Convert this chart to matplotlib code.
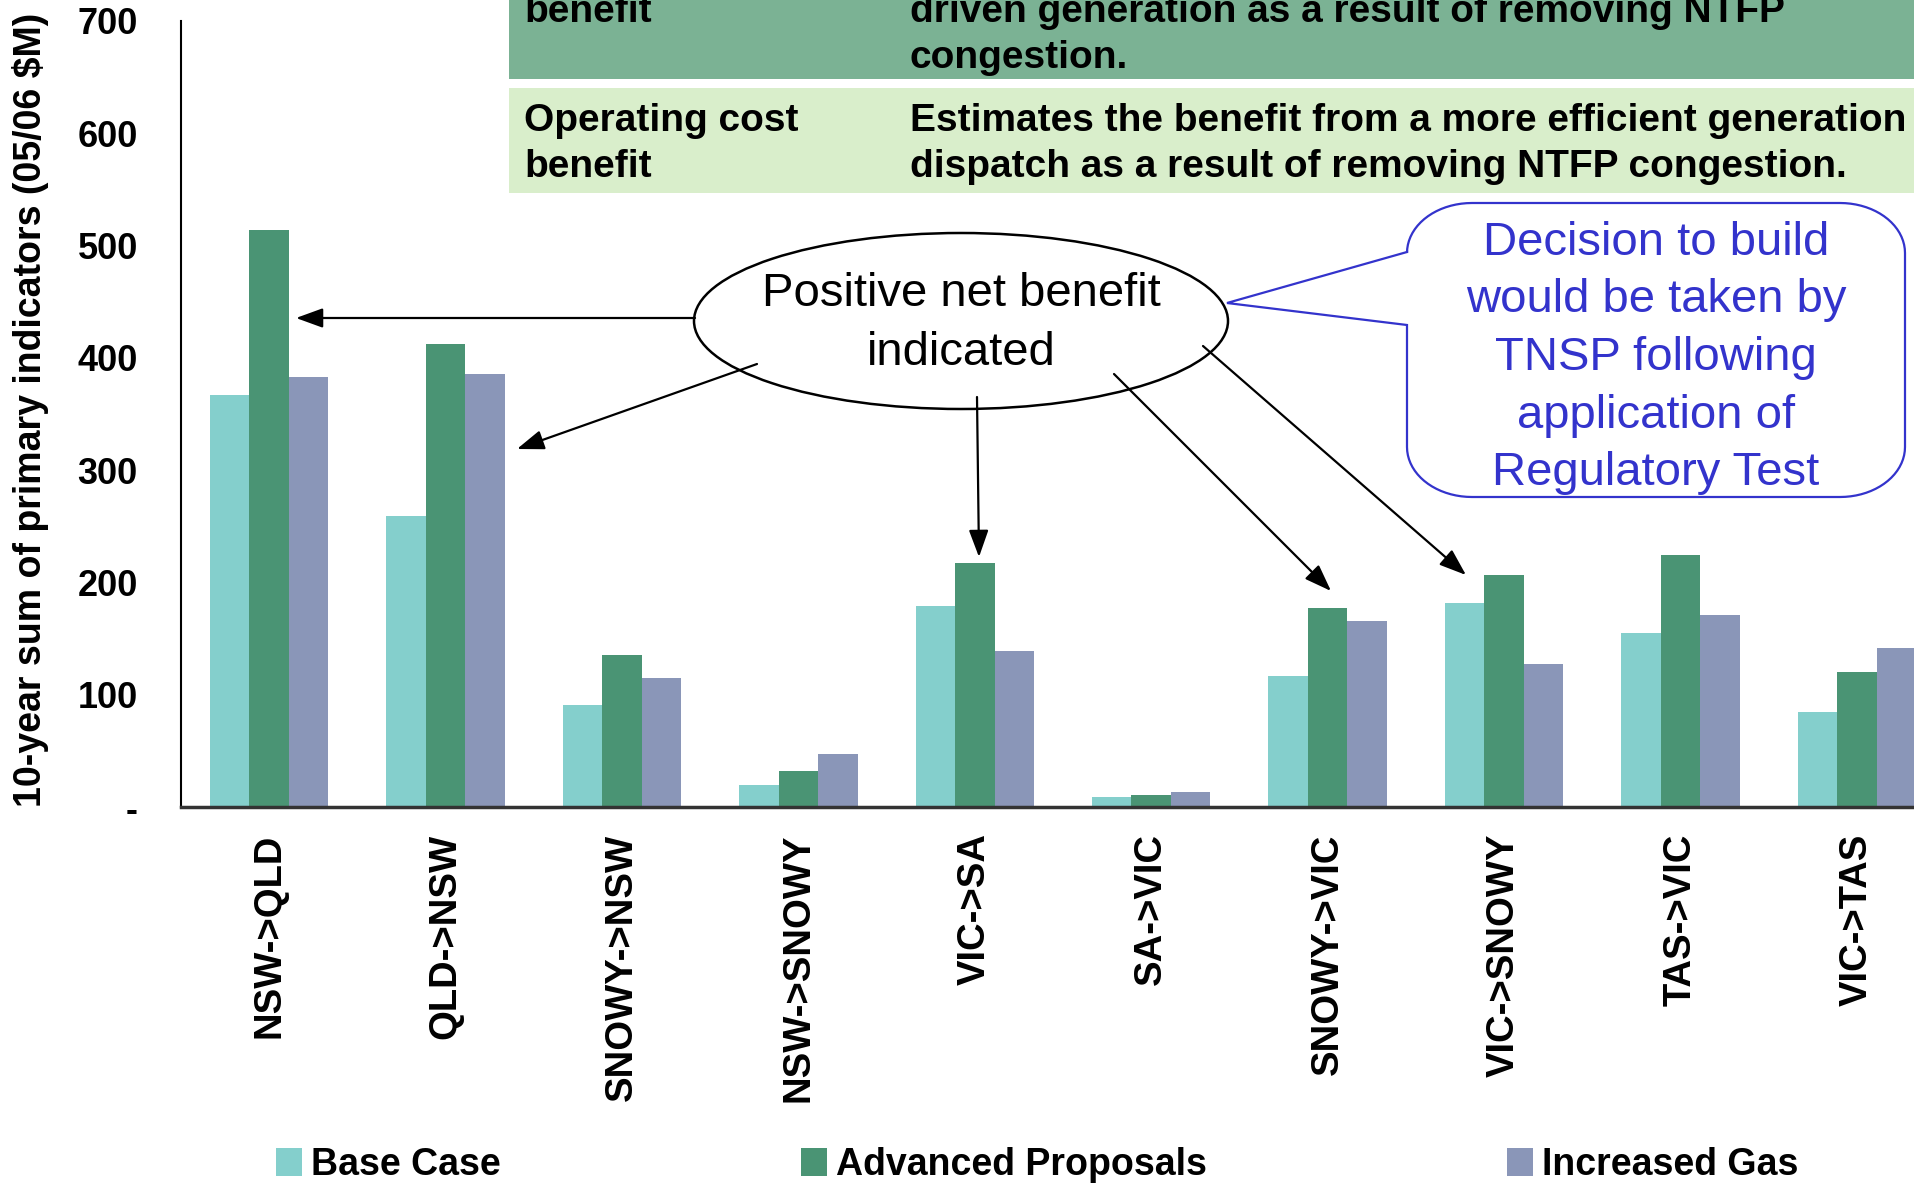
import numpy as np
import matplotlib
matplotlib.use('Agg')
import matplotlib.pyplot as plt
from matplotlib.patches import Rectangle, Ellipse, FancyArrowPatch, PathPatch
from matplotlib.path import Path

plt.rcParams['font.family'] = ['Liberation Sans', 'DejaVu Sans']

# chart data (10-year sum of primary indicators, 05/06 $M)
interconnectors = ['NSW->QLD', 'QLD->NSW', 'SNOWY->NSW', 'NSW->SNOWY', 'VIC->SA',
                   'SA->VIC', 'SNOWY->VIC', 'VIC->SNOWY', 'TAS->VIC', 'VIC->TAS']
base_case = [367, 259, 91, 20, 179, 9, 117, 182, 155, 85]
advanced_proposals = [514, 412, 135, 32, 217, 11, 177, 207, 224, 120]
increased_gas = [383, 386, 115, 47, 139, 13, 166, 127, 171, 142]
series_names = ['Base Case', 'Advanced Proposals', 'Increased Gas']
series_colors = ['#84cfcc', '#4a9474', '#8a96b8']
ytick_values = [0, 100, 200, 300, 400, 500, 600, 700]
ytick_labels = ['-', '100', '200', '300', '400', '500', '600', '700']

W, H = 1915, 1184


def px(x, y):
    # pixel position (from top-left) -> figure fraction
    return (x / W, 1 - y / H)


fig = plt.figure(figsize=(W / 100, H / 100), dpi=100)
ax = fig.add_axes([181 / W, 1 - 807 / H, 1 - 181 / W, (807 - 21) / H])

x = np.arange(len(interconnectors))
w = 0.2235
bars = []
for i, (vals, col) in enumerate(zip([base_case, advanced_proposals, increased_gas], series_colors)):
    b = ax.bar(x + (i - 1) * w, vals, width=w, color=col, label=series_names[i])
    bars.append(b)

ax.set_xlim(-0.5, 9.33)
ax.set_ylim(0, 700)
ax.set_yticks(ytick_values)
ax.set_yticklabels(ytick_labels, fontsize=26, fontweight='bold')
ax.set_xticks(x)
ax.set_xticklabels(interconnectors, rotation=90, fontsize=27.5, fontweight='bold')
ax.tick_params(axis='y', length=0, pad=31)
ax.tick_params(axis='x', length=0, pad=19)
ax.spines['top'].set_visible(False)
ax.spines['right'].set_visible(False)
ax.spines['left'].set_linewidth(1.5)
ax.spines['bottom'].set_linewidth(2.5)
ax.spines['bottom'].set_color('#333333')
ax.set_ylabel('10-year sum of primary indicators (05/06 $M)', fontsize=27, fontweight='bold')
ax.yaxis.set_label_coords(-0.0761, 0.505)

# legend along the bottom
fig.legend(handles=bars, labels=series_names, loc='center left',
           bbox_to_anchor=(276 / W, 1 - 1165 / H), ncol=3, frameon=False,
           borderpad=0, borderaxespad=0, handlelength=0.7, handleheight=0.75,
           handletextpad=0.24, columnspacing=8.0, prop={'weight': 'bold', 'size': 27})

# table rows at the top
fig.add_artist(Rectangle(px(509, 79), (W - 509) / W, 79 / H, transform=fig.transFigure,
                         facecolor='#7bb294', edgecolor='none', zorder=1))
fig.add_artist(Rectangle(px(509, 193), (W - 509) / W, (193 - 88) / H, transform=fig.transFigure,
                         facecolor='#d9eecb', edgecolor='none', zorder=1))
table_lines = [
    (524, 22, 'benefit'),
    (910, 22, 'driven generation as a result of removing NTFP'),
    (910, 68, 'congestion.'),
    (524, 131, 'Operating cost'),
    (524, 177, 'benefit'),
    (910, 131, 'Estimates the benefit from a more efficient generation'),
    (910, 177, 'dispatch as a result of removing NTFP congestion.'),
]
for tx, ty, t in table_lines:
    fig.text(*px(tx, ty), t, fontsize=28, fontweight='bold', va='baseline', ha='left', zorder=2)

# ellipse callout
fig.add_artist(Ellipse(px(961, 321), 534 / W, 176 / H, transform=fig.transFigure,
                       facecolor='white', edgecolor='black', lw=1.8, zorder=2))
fig.text(*px(961, 306), 'Positive net benefit', fontsize=34, ha='center', va='baseline', zorder=4)
fig.text(*px(961, 365), 'indicated', fontsize=34, ha='center', va='baseline', zorder=4)

arrows = [
    ((695, 318), (296, 318)),
    ((757, 364), (517, 449)),
    ((977, 397), (979, 557)),
    ((1114, 374), (1331, 591)),
    ((1203, 346), (1466, 575)),
]
for tail, head in arrows:
    fig.add_artist(FancyArrowPatch(px(*tail), px(*head), transform=fig.transFigure,
                                   arrowstyle='-|>,head_length=0.55,head_width=0.2',
                                   mutation_scale=30, color='black', lw=1.6,
                                   shrinkA=0, shrinkB=0, zorder=3))

# speech bubble
blue = '#3333cc'
L, R, T, B = 1407, 1905, 203, 497
rx, ry = 65, 50


def arc(cx, cy, a0, a1):
    t = np.radians(np.linspace(a0, a1, 20))
    return list(zip(cx + rx * np.cos(t), cy - ry * np.sin(t)))


pts = [(1227, 303), (L, 252)]
pts += arc(L + rx, T + ry, 180, 90)
pts += arc(R - rx, T + ry, 90, 0)
pts += arc(R - rx, B - ry, 0, -90)
pts += arc(L + rx, B - ry, -90, -180)
pts += [(L, 325), (1227, 303)]
verts = [px(a, b) for a, b in pts]
bubble = PathPatch(Path(verts, closed=True), transform=fig.transFigure,
                   facecolor='white', edgecolor=blue, lw=1.6, zorder=2)
fig.add_artist(bubble)
bubble_lines = ['Decision to build', 'would be taken by', 'TNSP following',
                'application of', 'Regulatory Test']
for k, t in enumerate(bubble_lines):
    fig.text(*px(1656, 255 + 57.5 * k), t, fontsize=34, color=blue, ha='center',
             va='baseline', zorder=4)

fig.savefig('out.png', dpi=100)
